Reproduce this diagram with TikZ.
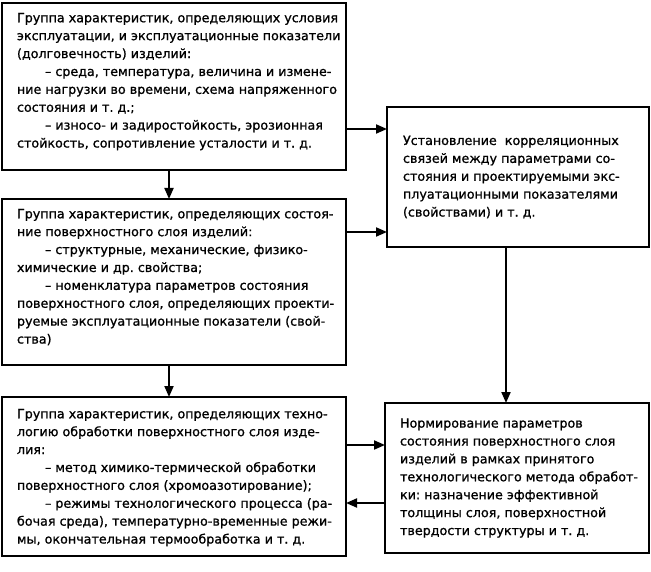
\documentclass[tikz,border=0pt]{standalone}
\usepackage{fontspec}
\setmainfont[FakeBold=1]{DejaVu Sans}
\usetikzlibrary{arrows.meta}

\tikzset{every picture/.style={line width=2pt}}

\newcommand{\ind}{\hspace*{28pt}}
\newcommand{\lin}[1]{\mbox{#1}\\}
\frenchspacing

\begin{document}
\begin{tikzpicture}[x=1pt, y=-1pt,
    block/.style={draw, anchor=north west, inner xsep=15pt, inner ysep=10pt, outer sep=0pt,
        font=\fontsize{12.7}{17.9}\selectfont},
    arr/.style={-{Triangle[length=11pt,width=9pt]}}]
    \useasboundingbox (0,0) rectangle (651,572);
    % left column
    \node[block] (grp1) at (2,3) {\parbox[c][147pt][t]{314pt}{\raggedright
        \lin{Группа характеристик, определяющих условия}
        \lin{эксплуатации, и эксплуатационные показатели}
        \lin{(долговечность) изделий:}
        \lin{\ind -- среда, температура, величина и измене-}
        \lin{ние нагрузки во времени, схема напряженного}
        \lin{состояния и т. д.;}
        \lin{\ind -- износо- и задиростойкость, эрозионная}
        \mbox{стойкость, сопротивление усталости и т. д.}}};
    \node[block] (grp2) at (2,199) {\parbox[c][146pt][t]{314pt}{\raggedright
        \lin{Группа характеристик, определяющих состоя-}
        \lin{ние поверхностного слоя изделий:}
        \lin{\ind -- структурные, механические, физико-}
        \lin{химические и др. свойства;}
        \lin{\ind -- номенклатура параметров состояния}
        \lin{поверхностного слоя, определяющих проекти-}
        \lin{руемые эксплуатационные показатели (свой-}
        \mbox{ства)}}};
    \node[block] (grp3) at (2,397) {\parbox[c][139pt][t]{314pt}{\raggedright
        \vspace*{2pt}
        \lin{Группа характеристик, определяющих техно-}
        \lin{логию обработки поверхностного слоя изде-}
        \lin{лия:}
        \lin{\ind -- метод химико-термической обработки}
        \lin{поверхностного слоя (хромоазотирование);}
        \lin{\ind -- режимы технологического процесса (ра-}
        \lin{бочая среда), температурно-временные режи-}
        \mbox{мы, окончательная термообработка и т. д.}}};
    % right column
    \node[block, inner xsep=16pt] (corr) at (387,107) {\parbox[c][120pt][c]{230pt}{\raggedright
        \lin{Установление\ \ корреляционных}
        \lin{связей между параметрами со-}
        \lin{стояния и проектируемыми экс-}
        \lin{плуатационными показателями}
        \mbox{(свойствами) и т. д.}}};
    \node[block] (norm) at (385,403) {\parbox[c][130pt][c]{234pt}{\raggedright
        \lin{Нормирование параметров}
        \lin{состояния поверхностного слоя}
        \lin{изделий в рамках принятого}
        \lin{технологического метода обработ-}
        \lin{ки: назначение эффективной}
        \lin{толщины слоя, поверхностной}
        \mbox{твердости структуры и т. д.}}};
    % connectors
    \draw[arr] ([xshift=-5pt]grp1.south) -- ([xshift=-5pt]grp2.north);
    \draw[arr] ([xshift=-5pt]grp2.south) -- ([xshift=-5pt]grp3.north);
    \coordinate (p1) at ([yshift=-42.5pt]grp1.east);
    \coordinate (p2) at ([yshift=50pt]grp2.east);
    \coordinate (p3) at ([yshift=31.5pt]grp3.east);
    \coordinate (p4) at ([yshift=-26.5pt]grp3.east);
    \coordinate (p5) at ([xshift=-12pt]corr.south);
    \draw[arr] (p1) -- (p1 -| corr.west);
    \draw[arr] (p2) -- (p2 -| corr.west);
    \draw[arr] (p5) -- (p5 |- norm.north);
    \draw[arr] (p3) -- (p3 -| norm.west);
    \draw[arr] (p4 -| norm.west) -- (p4);
\end{tikzpicture}
\end{document}
